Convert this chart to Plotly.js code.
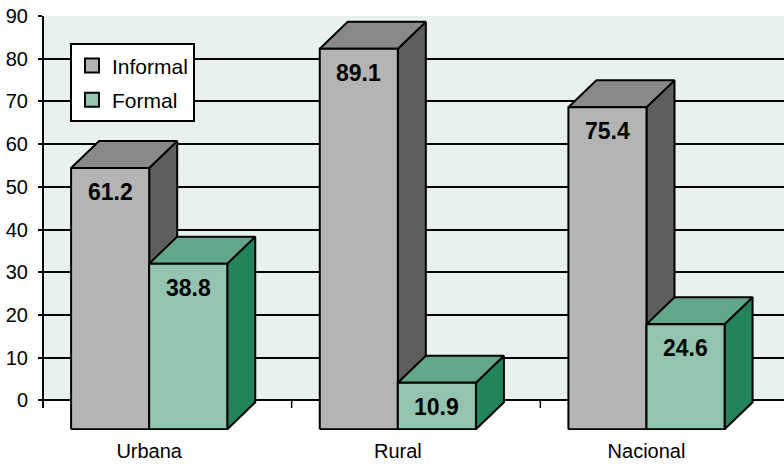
<!DOCTYPE html>
<html>
<head>
<meta charset="utf-8">
<script src="https://cdn.plot.ly/plotly-3.0.1.min.js"></script>
<style>html,body{margin:0;padding:0;background:#fff;}#chart{width:784px;height:464px;}</style>
</head>
<body>
<div id="chart"></div>
<script>
// ---- data ----
const categories = ['Urbana', 'Rural', 'Nacional'];
const informal = [61.2, 89.1, 75.4];
const formal = [38.8, 10.9, 24.6];
const seriesNames = ['Informal', 'Formal'];
const yTickValues = [0, 10, 20, 30, 40, 50, 60, 70, 80, 90];

// ---- style / geometry constants ----
const FONT = 'Liberation Sans, Arial, sans-serif';
const FRONT_DROP = 6.79;   // front face shifted below the back wall floor (y units)
const DEPTH_X = 0.1126;    // 3D depth (x units)
const DEPTH_Y = 6.32;      // 3D depth (y units)
const GROUP_OFF = 0.113;   // first bar start inside category
const BAR_W = 0.314;       // bar width (x units)
const Y_RANGE = [-6.95, 90];
const X_RANGE = [0, 2.98];
const colors = [
  {front: '#B4B4B4', top: '#898989', side: '#5E5E5E'},
  {front: '#93C4AF', top: '#63A78B', side: '#23845C'}
];
const series = [informal, formal];

const traces = [];
const annotations = [];
series.forEach((vals, s) => {
  const side = {x: [], y: []}, top = {x: [], y: []}, front = {x: [], y: []};
  vals.forEach((v, i) => {
    const x0 = i + GROUP_OFF + s * BAR_W;
    const x1 = x0 + BAR_W;
    const b = -FRONT_DROP;
    const t = v - FRONT_DROP;
    side.x.push(x1, x1 + DEPTH_X, x1 + DEPTH_X, x1, x1, null);
    side.y.push(t, t + DEPTH_Y, b + DEPTH_Y, b, t, null);
    top.x.push(x0, x0 + DEPTH_X, x1 + DEPTH_X, x1, x0, null);
    top.y.push(t, t + DEPTH_Y, t + DEPTH_Y, t, t, null);
    front.x.push(x0, x1, x1, x0, x0, null);
    front.y.push(b, b, t, t, b, null);
    annotations.push({
      x: (x0 + x1) / 2, y: t, xref: 'x', yref: 'y', yshift: -24,
      text: '<b>' + v.toFixed(1) + '</b>', showarrow: false, yanchor: 'middle',
      font: {family: FONT, size: 23, color: '#000'}
    });
  });
  [[side, colors[s].side], [top, colors[s].top], [front, colors[s].front]].forEach(([p, c]) => {
    traces.push({
      type: 'scatter', mode: 'lines', x: p.x, y: p.y, fill: 'toself',
      fillcolor: c, line: {color: '#000', width: 2}, hoverinfo: 'skip',
      showlegend: false
    });
  });
});
// legend entries
series.forEach((vals, s) => {
  traces.push({
    type: 'scatter', mode: 'markers', x: [null], y: [null], name: seriesNames[s],
    legendgroup: seriesNames[s],
    marker: {symbol: 'square', size: 14, color: colors[s].front, line: {color: '#000', width: 2}}
  });
});

const shapes = [
  {type: 'rect', xref: 'paper', x0: 0, x1: 1, yref: 'y', y0: 0, y1: 90,
   fillcolor: '#E8F1EE', line: {width: 0}, layer: 'below'},
  {type: 'line', xref: 'paper', x0: 0, x1: 0, yref: 'y', y0: -1.8, y1: 90,
   line: {color: '#000', width: 2}}
];
for (let i = 1; i < categories.length; i++) {
  shapes.push({type: 'line', xref: 'x', x0: i, x1: i, yref: 'y', y0: 0, y1: -1.8,
    line: {color: '#000', width: 1.5}});
}

const layout = {
  width: 784, height: 464,
  margin: {l: 43, r: 0, t: 16, b: 34, pad: 0},
  paper_bgcolor: '#fff', plot_bgcolor: '#fff',
  font: {family: FONT, size: 20, color: '#000'},
  showlegend: true,
  legend: {
    x: 0.0364, y: 0.934, xanchor: 'left', yanchor: 'top',
    bgcolor: '#fff', bordercolor: '#000', borderwidth: 2,
    font: {family: FONT, size: 21, color: '#000'},
    tracegroupgap: 4, traceorder: 'grouped'
  },
  xaxis: {
    range: X_RANGE, showgrid: false, zeroline: false, showline: false,
    tickvals: categories.map((c, i) => i + GROUP_OFF + BAR_W),
    ticktext: categories, ticks: '', tickfont: {family: FONT, size: 20, color: '#000'},
    ticklabelstandoff: 7, fixedrange: true
  },
  yaxis: {
    range: Y_RANGE, tickvals: yTickValues, ticktext: yTickValues.map(String),
    ticks: 'outside', ticklen: 4, tickwidth: 2, tickcolor: '#000',
    showgrid: true, gridcolor: '#000', gridwidth: 2, zeroline: false, showline: false,
    tickfont: {family: FONT, size: 20, color: '#000'}, ticklabelstandoff: 6, fixedrange: true
  },
  shapes: shapes,
  annotations: annotations
};

Plotly.newPlot('chart', traces, layout, {displayModeBar: false, staticPlot: true});
</script>
</body>
</html>
